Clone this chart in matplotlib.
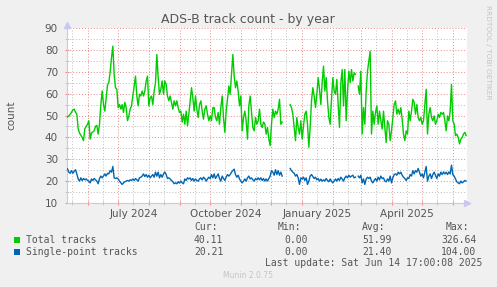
"""ADS-B track count - by year (Munin style chart)."""

import datetime as dt

import matplotlib

matplotlib.use("Agg")
import matplotlib.pyplot as plt
import matplotlib.dates as mdates
from matplotlib.patches import Rectangle
from matplotlib.ticker import FuncFormatter, MultipleLocator, NullFormatter
import numpy as np

nan = np.nan

# one sample every 4/3 day, starting at the left edge of the graph
START = dt.datetime(2024, 5, 10, 17, 0)
END = dt.datetime(2025, 6, 14, 17, 0)
STEP_DAYS = 4 / 3

total_tracks = [
    49.4, 49.8, 50.5, 51.5, 52.5, 52.9, 51.5, 50.6, 44, 42,
    41, 40, 38.5, 44, 45, 46, 47.6, 39.2, 42, 42.5,
    43, 45, 45.5, 41.5, 46, 55, 61.2, 55, 52, 58,
    64, 65, 70, 76.4, 81.7, 68.8, 62.7, 62, 53.6, 55,
    52.9, 55, 51.4, 56, 53.6, 47.6, 49.8, 52.9, 54.4, 58.9,
    63.5, 68, 58.9, 54.4, 59.7, 58.9, 61.2, 58.9, 61.2, 65.8,
    68, 54.4, 58, 58.9, 55, 61.2, 65, 77.9, 67.3, 59.7,
    62, 65.8, 59.7, 65.8, 64.2, 58.9, 56.7, 58.9, 56, 52.9,
    56.7, 54.4, 56.7, 53.6, 51.4, 52, 47, 50.6, 46, 52,
    45.3, 50.6, 56.7, 62.7, 58, 52, 58.9, 52.9, 49.1, 55,
    56.7, 52, 48.3, 52.9, 54.4, 50.6, 47.6, 49.8, 47.6, 53.6,
    53.6, 49.1, 47.6, 51.4, 46, 53.6, 58.9, 49.1, 42.3, 52,
    57.4, 63.5, 59.7, 68.8, 77.9, 68, 62.7, 65.8, 61.2, 54.4,
    58.9, 43, 49.1, 52, 47.6, 39.2, 54.4, 58.9, 51.4, 44.5,
    43, 49.1, 46, 47.6, 52.9, 46, 44.5, 47, 46, 41.5,
    44.5, 39.2, 36.2, 46, 52.9, 49.1, 52, 50.6, 52.9, 57.4,
    46, 47, nan, nan, nan, nan, nan, 55, 53.6, 50.6,
    44.5, 38.5, 49.1, 44.5, 41.5, 47.6, 39.2, 45.3, 50.6, 52,
    46, 35.5, 44.5, 56.7, 62.7, 58.9, 53.6, 59.7, 67.3, 62,
    55, 65, 72.6, 61.2, 67.3, 56.7, 49.1, 46, 57.4, 67.3,
    61.2, 59.7, 66.5, 55, 44.5, 65, 71, 54.4, 71, 47.6,
    61.2, 70.3, 65, 71, 65.8, 69.5, 68.8, nan, 63.5, 59.7,
    70.3, 41.5, 53.6, 46, 61.2, 70.3, 74.8, 79.4, 41.5, 52,
    46, 51.4, 54.4, 46, 52, 47.6, 43.8, 52, 44.5, 37.7,
    47.6, 46, 38.5, 43, 49.1, 55, 56.7, 50.6, 52.9, 50.6,
    53.6, 48.3, 41.5, 38.5, 43, 41.5, 52, 47.6, 52, 57.4,
    56, 50.6, 55, 49.1, 47.6, 49.1, 46, 47.6, 55, 62,
    41.5, 50.6, 53.6, 49.1, 47.6, 49.8, 46, 47.6, 50.6, 49.1,
    51.4, 50.6, 51.4, 47.6, 43, 49.8, 47.6, 52, 64.2, 47.6,
    46, 40.8, 41.5, 40, 37, 39.2, 40, 41.5, 42.3, 40.8,
]

single_point_tracks = [
    25.6, 24.1, 23.6, 24.8, 23.6, 24.5, 25.2, 23.3, 21, 20,
    21.5, 20.3, 21.2, 20.6, 21, 20.3, 20, 19.2, 21, 20.3,
    21.2, 20.6, 20, 18.8, 21.2, 22.3, 21.5, 22.3, 23.3, 22.3,
    23.6, 23.3, 24.8, 24.1, 26.7, 21.5, 21.2, 21.5, 21, 20,
    19.2, 18.5, 19.2, 19.7, 20, 20.3, 20, 20.6, 20.3, 21,
    20.3, 21.2, 20.6, 20, 21.5, 21.8, 22.3, 23.3, 22.1, 23,
    21.8, 22.7, 21.5, 22.3, 23, 21.8, 24.1, 22.3, 24.1, 21.5,
    23, 21.8, 23.3, 24.2, 23, 21.2, 21.5, 21, 20.3, 19.7,
    18.8, 19.2, 18.8, 19.7, 19.1, 20, 19.2, 18.8, 21, 20.3,
    21.5, 21, 21.5, 20.3, 21.2, 20, 21, 20.3, 20, 21,
    21.5, 20.6, 21.8, 21.2, 20, 21, 21.8, 21.2, 23, 21.5,
    23.3, 21.2, 22.3, 23.3, 21.2, 20, 22.3, 21.2, 20.3, 21.8,
    23, 22.3, 23, 24.1, 24.8, 25.5, 23, 21.8, 22.7, 21,
    20, 19.2, 20, 21, 20, 21.5, 22.3, 21, 21.5, 20.6,
    20, 21.2, 20.6, 21.5, 20.6, 21.5, 20.3, 21.2, 20, 21,
    20, 21.2, 22.3, 24.8, 24.1, 22.7, 25.2, 23, 24.8, 22.7,
    24.1, 22.3, nan, nan, nan, nan, nan, 25.8, 24.8, 24.1,
    23.6, 22.3, 23, 21.5, 18.5, 21.5, 21, 21.8, 20.3, 21.5,
    18.5, 20, 22.3, 23, 22.1, 21.2, 21.8, 20.6, 21.2, 20,
    20.9, 20, 20.6, 20, 21.2, 20.3, 19.7, 21, 20, 19.2,
    20, 21, 20, 21.2, 20.3, 21.8, 21, 20, 21.5, 22.3,
    21.5, 22.7, 21.8, 22.3, 22.7, 21.5, 21.8, nan, 22.3, 21.5,
    22.7, 19.2, 21, 18.5, 21, 21.8, 21.2, 21.8, 20, 19.2,
    20.3, 21.2, 20, 21.8, 20.6, 22.3, 21.2, 21.5, 20, 19.7,
    21, 20, 22.3, 19.2, 21.5, 23, 23.3, 22.7, 24.1, 23.3,
    24.1, 22.7, 21.8, 21.2, 20.3, 21.5, 21.2, 23, 22.3, 24.8,
    23.3, 24.8, 24.1, 25.8, 24.1, 22.3, 23.3, 21.5, 24.1, 26.7,
    20, 22.3, 23.3, 21.2, 23, 24.1, 22.7, 21.2, 23.3, 22.3,
    24.1, 23, 24.2, 23.3, 24.1, 23, 24.2, 23.3, 27.3, 23,
    22.3, 21, 19.7, 19.2, 18.8, 20, 19.2, 19.7, 20.3, 20,
]

series_labels = ["Total tracks", "Single-point tracks"]
series_colors = ["#00cc00", "#0066b3"]
stat_headers = ["Cur:", "Min:", "Avg:", "Max:"]
total_stats = ["40.11", "0.00", "51.99", "326.64"]
single_stats = ["20.21", "0.00", "21.40", "104.00"]
last_update = "Last update: Sat Jun 14 17:00:08 2025"

W, H = 497, 287
TEXT = "#555555"
FAINT = "#c4c4c4"
MONO = "DejaVu Sans Mono"


def px(x, y):
    """pixel position -> figure fraction"""
    return x / W, 1 - y / H


times = [START + dt.timedelta(days=0.5 + i * STEP_DAYS) for i in range(len(total_tracks))]

fig = plt.figure(figsize=(W / 100, H / 100), dpi=100, facecolor="#f0f0f0")
ax = fig.add_axes([67 / W, 1 - 203 / H, 400 / W, 175 / H])
ax.set_facecolor("white")

ax.plot(times, total_tracks, color=series_colors[0], lw=1.0, zorder=3)
ax.plot(times, single_point_tracks, color=series_colors[1], lw=1.0, zorder=3)

ax.set_xlim(START, END)
ax.set_ylim(10, 90)

ax.xaxis.set_major_locator(mdates.MonthLocator(bymonthday=1))
ax.xaxis.set_minor_locator(mdates.MonthLocator(bymonthday=16))
ax.xaxis.set_major_formatter(NullFormatter())


def month_label(value, pos):
    d = mdates.num2date(value)
    return d.strftime("%B %Y") if d.month in (1, 4, 7, 10) else ""


ax.xaxis.set_minor_formatter(FuncFormatter(month_label))
ax.yaxis.set_major_locator(MultipleLocator(10))
ax.yaxis.set_minor_locator(MultipleLocator(5))

dots = (0, (1, 2))
ax.grid(which="major", color="#e88a8a", linestyle=dots, lw=0.7, zorder=1)
ax.grid(which="minor", color="#bdbdbd", linestyle=dots, lw=0.7, zorder=1)

ax.tick_params(axis="x", which="major", length=3, direction="inout", color="#e88a8a")
ax.tick_params(axis="x", which="minor", length=3, direction="inout", color="#bdbdbd",
               labelsize=7.5, labelcolor=TEXT, pad=3)
ax.tick_params(axis="y", which="major", length=3, direction="inout", color="#e88a8a",
               labelsize=7.5, labelcolor=TEXT, pad=5)
ax.tick_params(axis="y", which="minor", length=3, direction="inout", color="#bdbdbd")

for side in ("top", "right"):
    ax.spines[side].set_visible(False)
for side in ("left", "bottom"):
    ax.spines[side].set_color("#c8c8f0")
    ax.spines[side].set_linewidth(0.8)

# axis arrows
ax.plot([1.0], [0], marker=">", ms=5, color="#c8c8f0", transform=ax.transAxes, clip_on=False)
ax.plot([0], [1.02], marker="^", ms=5, color="#c8c8f0", transform=ax.transAxes, clip_on=False)
ax.plot([1.0, 1.0075], [0, 0], color="#c8c8f0", lw=0.8, transform=ax.transAxes, clip_on=False)
ax.plot([0, 0], [1.0, 1.02], color="#c8c8f0", lw=0.8, transform=ax.transAxes, clip_on=False)

fig.text(*px(248, 19), "ADS-B track count - by year", ha="center", va="center",
         fontsize=9, color=TEXT)
fig.text(*px(11, 115), "count", ha="center", va="center", rotation=90,
         fontsize=7.5, color=TEXT)
fig.text(*px(488, 5), "RRDTOOL / TOBI OETIKER", ha="center", va="top", rotation=270,
         fontsize=5.3, color=FAINT)

# legend block
col_x = [194, 278, 362, 446]
val_x = [194, 284, 362.5, 441]
for x, h in zip(col_x, stat_headers):
    fig.text(*px(x, 227.5), h, ha="left", va="center", family=MONO, fontsize=7, color=TEXT)

rows = [(240, total_stats), (252, single_stats)]
for (y, stats), label, color in zip(rows, series_labels, series_colors):
    fig.patches.append(Rectangle(px(14, y + 3), 6 / W, 6 / H, transform=fig.transFigure,
                                 facecolor=color, edgecolor="none"))
    fig.text(*px(26, y), label, ha="left", va="center", family=MONO, fontsize=7, color=TEXT)
    for x, s in zip(val_x, stats):
        fig.text(*px(x, y), s, ha="left", va="center", family=MONO, fontsize=7, color=TEXT)

fig.text(*px(482.5, 263.5), last_update, ha="right", va="center", family=MONO,
         fontsize=7, color=TEXT)
fig.text(*px(248, 276), "Munin 2.0.75", ha="center", va="center", fontsize=5.5, color=FAINT)

fig.savefig("out.png", dpi=100, facecolor=fig.get_facecolor())
